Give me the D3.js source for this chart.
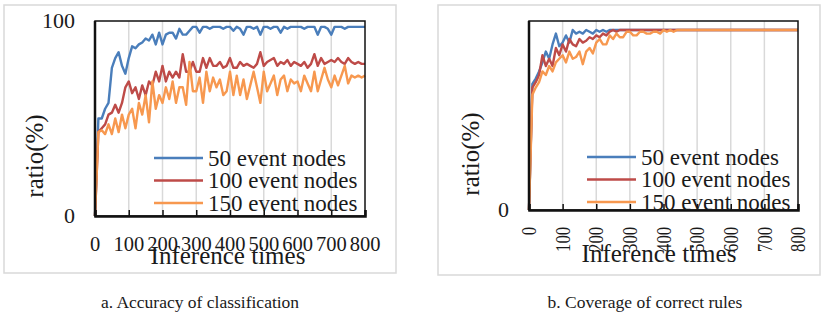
<!DOCTYPE html>
<html>
<head>
<meta charset="utf-8">
<script src="https://cdn.jsdelivr.net/npm/d3@7"></script>
<style>
  body { margin: 0; background: #fff; }
  svg { display: block; }
  text { font-family: 'Liberation Serif', 'Times New Roman', serif; fill: #1a1a1a; }
</style>
</head>
<body>
<svg id="chart" width="821" height="320"></svg>
<script>
// inference times (x) shared by all series
const inferenceTimes = [0,10,20,30,40,50,60,70,80,90,100,110,120,130,140,150,160,170,180,190,200,
  210,220,230,240,250,260,270,280,290,300,310,320,330,340,350,360,370,380,390,400,
  410,420,430,440,450,460,470,480,490,500,510,520,530,540,550,560,570,580,590,600,
  610,620,630,640,650,660,670,680,690,700,710,720,730,740,750,760,770,780,790,800];

const seriesNames = ['50 event nodes', '100 event nodes', '150 event nodes'];
const xTicks = [0, 100, 200, 300, 400, 500, 600, 700, 800];

// a. accuracy of classification
const accuracy50 = [0,50,50,55,58,76,81,84,77,73,81,87,86,88,89,91,90,93,88,94,88,
  93,94,94,91,96,93,93,95,97,97,94,97,97,96,97,97,97,96,97,97,
  95,97,96,93,97,97,96,97,93,97,97,96,97,97,94,97,96,97,97,97,
  97,96,97,97,97,93,97,97,96,93,97,97,97,96,97,97,97,97,97,97];
const accuracy100 = [0,43,45,47,52,53,57,53,58,66,69,63,66,60,67,62,69,67,74,69,77,
  69,74,71,74,71,83,74,74,79,74,74,81,76,81,77,77,79,76,77,81,
  76,76,79,77,78,77,76,78,84,77,79,80,81,77,79,78,80,77,79,78,
  77,79,76,78,83,77,81,78,79,80,79,81,79,78,81,79,78,79,78,78];
const accuracy150 = [0,43,44,42,47,42,50,43,52,45,52,55,45,58,52,62,48,69,55,62,58,
  66,60,69,58,66,66,57,79,64,64,71,58,74,64,71,66,70,62,64,74,
  62,72,62,70,60,67,74,66,58,74,64,68,72,62,70,72,64,70,68,69,
  64,72,68,64,74,64,70,76,70,66,72,67,72,77,68,72,71,72,71,72];
const accuracyTicks = [0, 100];

// b. coverage of correct rules
const coverage50 = [0,70,73,77,82,88,84,92,98,91,93,97,93,100,98,99,98,100,99,98,100,
  99,100,99,100,100,100,100,100,100,100,100,100,100,100,100,100,100,100,100,100,
  100,100,100,100,100,100,100,100,100,100,100,100,100,100,100,100,100,100,100,100,
  100,100,100,100,100,100,100,100,100,100,100,100,100,100,100,100,100,100,100,100];
const coverage100 = [0,68,71,75,86,80,84,80,90,86,92,88,95,92,91,95,93,94,96,95,97,
  96,98,97,99,100,99,100,100,100,100,100,100,100,100,100,100,100,100,100,100,
  100,100,100,100,100,100,100,100,100,100,100,100,100,100,100,100,100,100,100,100,
  100,100,100,100,100,100,100,100,100,100,100,100,100,100,100,100,100,100,100,100];
const coverage150 = [0,64,68,71,77,75,80,77,82,84,86,82,88,84,85,88,81,88,90,87,93,
  95,92,92,97,95,98,96,96,99,99,97,97,99,99,98,98,99,99,98,100,
  99,100,99,100,100,100,100,100,100,100,100,100,100,100,100,100,100,100,100,100,
  100,100,100,100,100,100,100,100,100,100,100,100,100,100,100,100,100,100,100,100];
const coverageTicks = [0];

const colors = ['#4a7ebb', '#be4b48', '#f7984f'];

const svg = d3.select('#chart');

function drawPanel(p) {
  const g = svg.append('g');

  // light outer frame round the panel
  g.append('rect')
    .attr('x', p.box[0]).attr('y', p.box[1])
    .attr('width', p.box[2]).attr('height', p.box[3])
    .attr('fill', 'none').attr('stroke', '#d9d9d9').attr('stroke-width', 1.5);

  const x = d3.scaleLinear().domain([0, 800]).range([p.left, p.right]);
  const y = d3.scaleLinear().domain([0, p.yMax]).range([p.bottom, p.top]);

  // vertical gridlines
  g.append('g').selectAll('line')
    .data(xTicks.slice(1, -1))
    .enter().append('line')
    .attr('x1', d => x(d)).attr('x2', d => x(d))
    .attr('y1', p.top).attr('y2', p.bottom)
    .attr('stroke', '#d9d9d9').attr('stroke-width', 1.5);

  // series
  const line = d3.line()
    .x((d, i) => x(inferenceTimes[i]))
    .y(d => y(d));
  p.series.forEach((s, i) => {
    g.append('path')
      .datum(s)
      .attr('d', line)
      .attr('fill', 'none')
      .attr('stroke', colors[i])
      .attr('stroke-width', 2.4)
      .attr('stroke-linejoin', 'round');
  });

  // plot frame
  g.append('rect')
    .attr('x', p.left).attr('y', p.top)
    .attr('width', p.right - p.left).attr('height', p.bottom - p.top)
    .attr('fill', 'none').attr('stroke', '#111').attr('stroke-width', 1.5);
  g.append('line')
    .attr('x1', p.left).attr('x2', p.left)
    .attr('y1', p.top).attr('y2', p.bottom)
    .attr('stroke', '#111').attr('stroke-width', 2.5);

  // bottom axis: inward ticks, labels drawn separately
  const xAxis = g.append('g')
    .attr('transform', 'translate(0,' + p.bottom + ')')
    .call(d3.axisBottom(x).tickValues(xTicks).tickSize(-6).tickFormat(''));
  xAxis.select('.domain').attr('stroke', '#111').attr('stroke-width', 2.5);
  xAxis.selectAll('.tick line').attr('stroke', '#111').attr('stroke-width', 1.5);

  const xl = g.append('g').selectAll('text')
    .data(xTicks)
    .enter().append('text')
    .style('font-size', '20.5px');
  if (p.rotate) {
    xl.attr('transform', d => 'translate(' + x(d) + ',' + p.xLabelY + ') rotate(-90)')
      .attr('text-anchor', 'end')
      .attr('dy', '0.35em')
      .attr('textLength', d => String(d).length * 8.3)
      .attr('lengthAdjust', 'spacingAndGlyphs')
      .text(d => d);
  } else {
    xl.attr('x', d => x(d)).attr('y', p.xLabelY)
      .attr('text-anchor', 'middle')
      .text(d => d);
  }

  // left labels
  g.append('g').selectAll('text')
    .data(p.yTicks)
    .enter().append('text')
    .attr('x', p.left - 20)
    .attr('y', d => y(d))
    .attr('dy', '0.33em')
    .attr('text-anchor', 'end')
    .style('font-size', '22px')
    .text(d => d);

  // titles
  g.append('text')
    .attr('transform', 'translate(' + p.yTitleX + ',' + p.yTitleY + ') rotate(-90)')
    .attr('text-anchor', 'middle')
    .style('font-size', '25px')
    .text('ratio(%)');
  g.append('text')
    .attr('x', p.xTitleX).attr('y', p.xTitleY)
    .attr('text-anchor', 'middle')
    .style('font-size', '25px')
    .text('Inference times');

  // legend
  const leg = g.append('g').selectAll('g')
    .data(seriesNames)
    .enter().append('g')
    .attr('transform', (d, i) => 'translate(' + p.legX + ',' + (p.legY + i * 22.5) + ')');
  leg.append('line')
    .attr('x1', 0).attr('x2', 49)
    .attr('stroke', (d, i) => colors[i])
    .attr('stroke-width', 2.6);
  leg.append('text')
    .attr('x', 54).attr('y', 7.5)
    .style('font-size', '23px')
    .text(d => d);

  // caption
  svg.append('text')
    .attr('x', p.captionX).attr('y', 308)
    .attr('text-anchor', 'middle')
    .style('font-size', '17.5px')
    .text(p.caption);
}

drawPanel({
  box: [4, 5, 392, 268],
  left: 95, right: 365, top: 21, bottom: 216, yMax: 100,
  series: [accuracy50, accuracy100, accuracy150],
  yTicks: accuracyTicks,
  rotate: false, xLabelY: 251,
  yTitleX: 43, yTitleY: 156,
  xTitleX: 228, xTitleY: 264,
  legX: 154, legY: 158,
  captionX: 200, caption: 'a. Accuracy of classification'
});

drawPanel({
  box: [438, 5, 382, 270],
  left: 529, right: 798, top: 21, bottom: 210, yMax: 105,
  series: [coverage50, coverage100, coverage150],
  yTicks: coverageTicks,
  rotate: true, xLabelY: 227,
  yTitleX: 479, yTitleY: 154,
  xTitleX: 659, xTitleY: 262,
  legX: 587, legY: 157,
  captionX: 645, caption: 'b. Coverage of correct rules'
});
</script>
</body>
</html>
